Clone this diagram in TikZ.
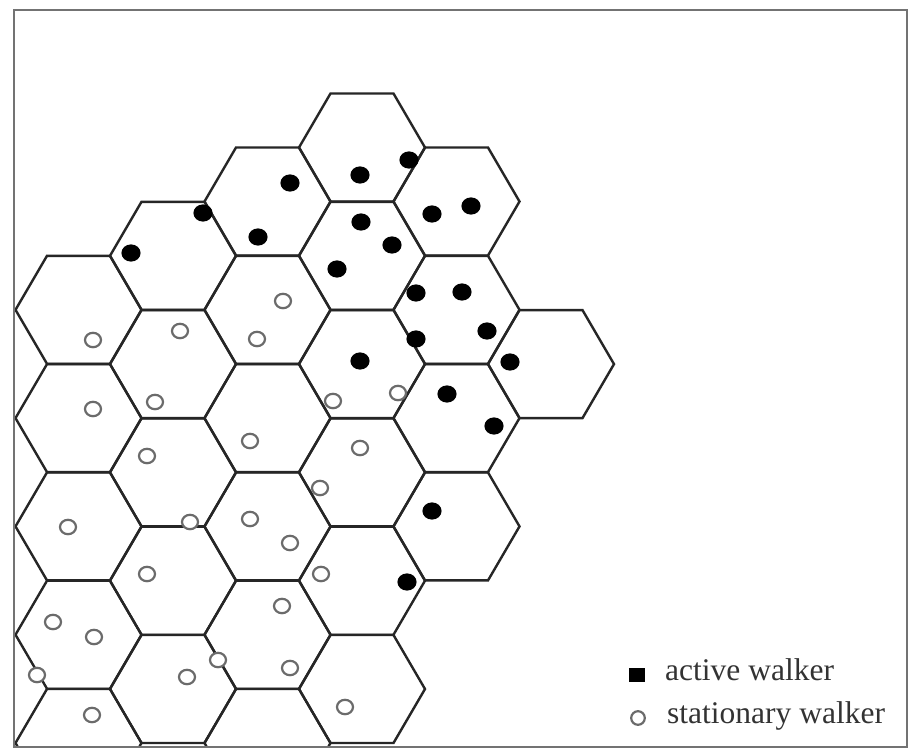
\documentclass[tikz,border=0pt]{standalone}
\usepackage{fontspec}
\setmainfont{Liberation Serif}
\usetikzlibrary{calc}
\tikzset{
  hexline/.style={draw=black!85, line width=2.4pt, line join=miter},
  active/.style={fill=black},
  stationary/.style={draw=black!58, line width=2.2pt, fill=white},
  framebox/.style={draw=black!55, line width=2.8pt},
  legendtext/.style={anchor=base west, inner sep=0pt, text=black!80, font=\fontsize{31.5}{36}\selectfont}
}
\newcommand\hexcell[2]{\draw[hexline] (#1,#2) +(-63,0) -- +(-31.5,54) -- +(31.5,54) -- +(63,0) -- +(31.5,-54) -- +(-31.5,-54) -- cycle;}
\begin{document}
\begin{tikzpicture}[x=1pt,y=-1pt]
\useasboundingbox (0,0) rectangle (912,749);
\fill[white] (0,0) rectangle (912,749);
\begin{scope}
\clip (14,10) rectangle (907,747);
% column 0
\foreach \n in {1,...,5} {\pgfmathsetmacro\yy{201.5+108.3*\n}\hexcell{78.5}{\yy}}
% column 1
\foreach \n in {1,...,5} {\pgfmathsetmacro\yy{147.5+108.3*\n}\hexcell{173}{\yy}}
% column 2
\foreach \n in {0,...,5} {\pgfmathsetmacro\yy{201.5+108.3*\n}\hexcell{267.5}{\yy}}
% column 3
\foreach \n in {0,...,5} {\pgfmathsetmacro\yy{147.5+108.3*\n}\hexcell{362}{\yy}}
% column 4
\foreach \n in {0,...,3} {\pgfmathsetmacro\yy{201.5+108.3*\n}\hexcell{456.5}{\yy}}
% column 5
\hexcell{551}{364.1}
% active walkers
\foreach \p in {(409,160),(360,175),(290,183),(203,213),(258,237),(131,253),(361,222),(392,245),(337,269),(432,214),(471,206),(416,293),(462,292),(487,331),(416,339),(510,362),(360,361),(447,394),(494,426),(432,511),(407,582)}
  {\fill[active] \p ellipse [x radius=9.6, y radius=8.6];}
% stationary walkers
\foreach \p in {(283,301),(180,331),(257,339),(93,340),(93,409),(155,402),(333,401),(398,393),(250,441),(360,448),(147,456),(320,488),(68,527),(190,522),(250,519),(290,543),(147,574),(321,574),(282,606),(53,622),(94,637),(218,660),(290,668),(37,675),(187,677),(92,715),(345,707)}
  {\draw[stationary] \p ellipse [x radius=8, y radius=7.2];}
\end{scope}
\draw[framebox] (14,10) rectangle (907,747);
% legend
\fill[active] (629,668) rectangle (645,682);
\node[legendtext] (lact) at (665,680) {active walker};
\draw[stationary] (638,718) circle (6.8);
\node[legendtext] (lsta) at (667,723) {stationary walker};
\end{tikzpicture}
\end{document}
